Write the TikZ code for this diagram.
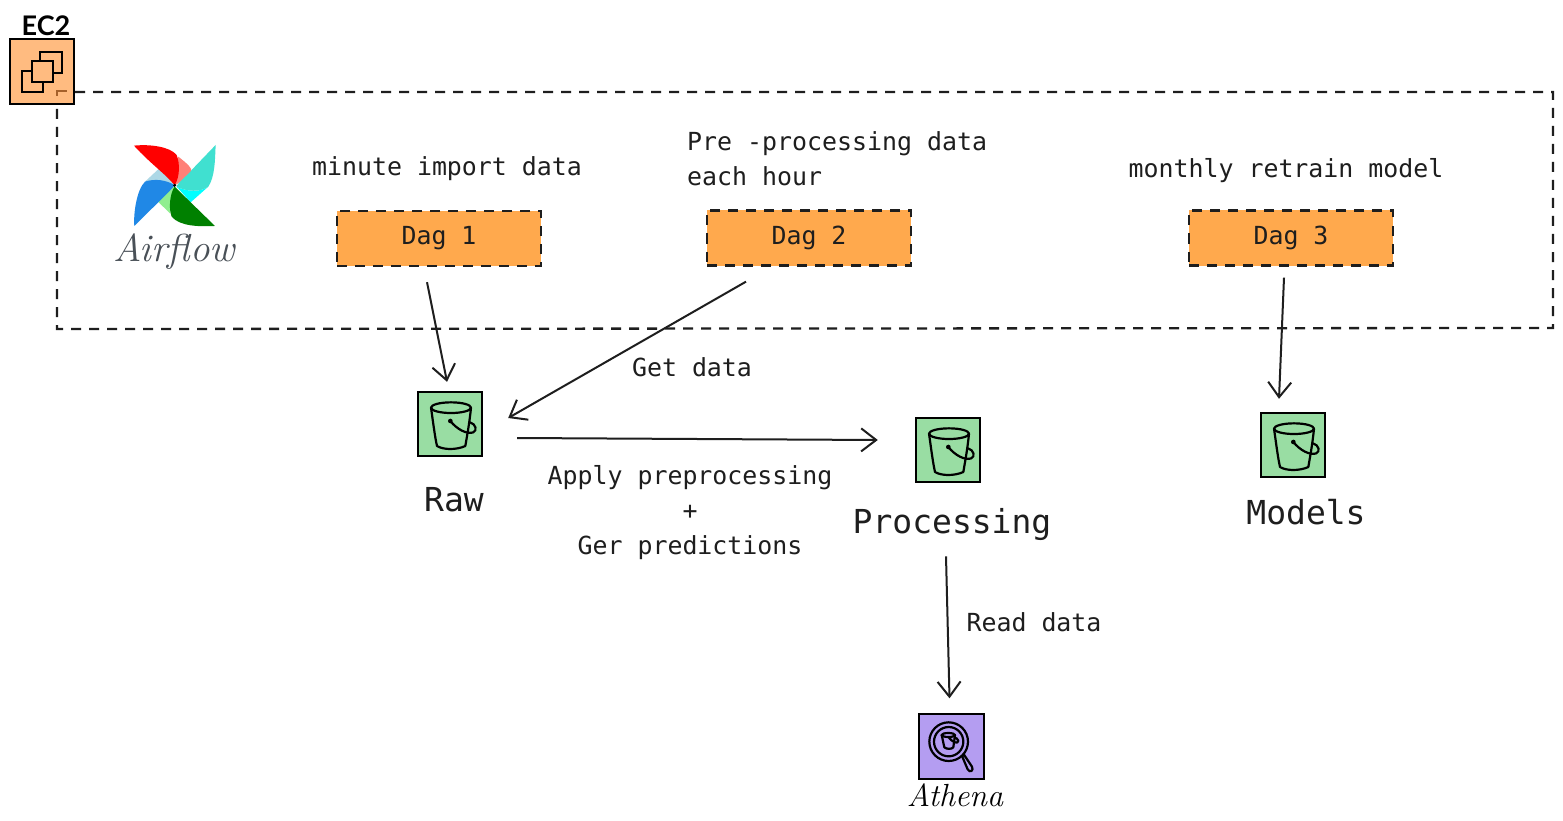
\documentclass[tikz,border=0pt]{standalone}
\usepackage{fontspec}
\setmainfont{DejaVu Sans Mono}
\newfontfamily\handfont{Latin Modern Roman}
\newfontfamily\capfont{Lato}
\usetikzlibrary{arrows.meta,calc}
\definecolor{orangeF}{HTML}{FFA94D}
\definecolor{ecF}{HTML}{FFBB80}
\definecolor{greenF}{HTML}{99DDA3}
\definecolor{purpF}{HTML}{B49DF1}
\definecolor{ink}{HTML}{1E1E1E}
\definecolor{pwLRed}{HTML}{FF8077}
\definecolor{pwCyan}{HTML}{00FFFF}
\definecolor{pwLGreen}{HTML}{90EE90}
\definecolor{pwLBlue}{HTML}{ADD8E6}
\definecolor{pwTeal}{HTML}{40E0D0}
\definecolor{pwGreen}{HTML}{008000}
\definecolor{pwBlue}{HTML}{2088E6}
\definecolor{cornerC}{HTML}{A5602A}
\tikzset{
 x=1pt,y=-1pt,
 dashline/.style={draw=ink,line width=2.3pt,dash pattern=on 10pt off 8pt},
 dagbox/.style={dashline,fill=orangeF,minimum width=204pt,minimum height=55pt,inner sep=0pt,font=\fontsize{24.9}{26}\selectfont,text=ink},
 iconbox/.style={draw=black,line width=1.9pt,minimum size=64.5pt,inner sep=0pt},
 lbl/.style={inner sep=0pt,text=ink,font=\fontsize{24.9}{26}\selectfont},
 biglbl/.style={inner sep=0pt,text=ink,font=\fontsize{33}{36}\selectfont},
 arr/.style={draw=ink,line width=2pt,-{Straight Barb[length=15pt,width=23pt,line width=2pt]}},
 bucket/.pic={
  \begin{scope}[x=0.3333pt,y=-0.3333pt,line width=2.2pt,draw=black,line cap=round,line join=round]
   \draw (3,-49) ellipse [x radius=60,y radius=16];
   \draw (-57,-49) .. controls (-50,0) and (-45,40) .. (-39,66) .. controls (-20,78) and (20,78) .. (46,66) .. controls (52,30) and (58,0) .. (63,-49);
   \fill (1,-9) circle (7);
   \draw (1,-9) .. controls (20,15) and (50,32) .. (70,25) .. controls (82,20) and (78,0) .. (60,-5);
  \end{scope}}
}
\begin{document}
\begin{tikzpicture}
\useasboundingbox (0,0) rectangle (1563,821);
\fill[white] (0,0) rectangle (1563,821);
% frame
\draw[dashline] (57,92) -- (1553,92) -- (1553,328) -- (57,329) -- cycle;
% EC2
\node[iconbox,fill=ecF] (ec2) at (42,71.5) {};
\begin{scope}[x=0.3333pt,y=-0.3333pt,line width=2.2pt,draw=black]
 \filldraw[fill=ecF] (120,155) rectangle (185,218);
 \filldraw[fill=ecF] (65,212) rectangle (130,275);
 \filldraw[fill=ecF] (95,183) rectangle (158,247);
 \draw[draw=cornerC,line width=2.2pt] (172,288) -- (172,273) -- (200,273);
\end{scope}
\node[inner sep=0pt,font=\capfont\fontsize{27}{30}\selectfont\bfseries,text=black] (ec2t) at (46,26) {EC2};
% Airflow logo
\begin{scope}[x=0.3333pt,y=-0.3333pt]
 \fill[pwLRed] (535,470) .. controls (560,490) and (580,505) .. (573,520) .. controls (560,535) and (535,550) .. (524,556) -- cycle;
 \fill[pwCyan] (530,560) .. controls (560,575) and (600,578) .. (625,560) -- (572,607) -- cycle;
 \fill[pwLGreen] (524,560) .. controls (500,565) and (475,585) .. (472,603) -- (510,640) -- cycle;
 \fill[pwLBlue] (435,545) -- (478,505) .. controls (495,510) and (515,530) .. (524,556) -- cycle;
 \fill[red] (402,437) .. controls (450,432) and (510,440) .. (530,465) .. controls (540,490) and (540,530) .. (524,556) .. controls (500,525) and (450,490) .. (402,437) -- cycle;
 \fill[pwTeal] (647,435) .. controls (645,480) and (645,530) .. (625,560) .. controls (600,578) and (560,575) .. (530,560) .. controls (530,550) and (570,520) .. (575,510) -- (647,435) -- cycle;
 \fill[pwGreen] (645,678) .. controls (600,680) and (540,680) .. (515,650) .. controls (505,625) and (510,580) .. (524,560) -- (572,607) -- (645,678) -- cycle;
 \fill[pwBlue] (403,678) .. controls (400,640) and (410,570) .. (435,545) .. controls (465,535) and (500,540) .. (524,556) .. controls (500,585) and (450,630) .. (403,678) -- cycle;
 \fill[black] (524,556) circle (5);
\end{scope}
\node[inner sep=0pt,font=\handfont\itshape\fontsize{39}{44}\selectfont,text={rgb,255:red,73;green,80;blue,87}] (airflow) at (174,252) {Airflow};
% dags
\node[dagbox] (dag1) at (439,238.5) {Dag 1};
\node[dagbox] (dag2) at (809,238) {Dag 2};
\node[dagbox] (dag3) at (1291,238) {Dag 3};
\node[lbl] (t1) at (447,169) {minute import data};
\node[lbl,align=left,anchor=north west,font=\fontsize{24.9}{35}\selectfont] (t2) at (687,131) {Pre -processing data\\each hour};
\node[lbl] (t3) at (1286,171) {monthly retrain model};
% buckets
\node[iconbox,fill=greenF] (raw) at (450,424) {};
\pic at (raw.center) {bucket};
\node[iconbox,fill=greenF] (proc) at (948,450) {};
\pic at (proc.center) {bucket};
\node[iconbox,fill=greenF] (models) at (1293,445) {};
\pic at (models.center) {bucket};
\node[biglbl] (rawt) at (454,499.5) {Raw};
\node[biglbl] (proct) at (952,525) {Processing};
\node[biglbl] (modelst) at (1306,512) {Models};
% Athena
\node[iconbox,fill=purpF] (athena) at (951.5,746.5) {};
\begin{scope}[shift={(890,700)},x=0.3333pt,y=-0.3333pt,line width=2.2pt,draw=black,line cap=round,line join=round]
 \draw (176,125) circle (58);
 \draw (176,125) circle (44);
 \draw (175,105) ellipse [x radius=20,y radius=6];
 \draw (155,105) -- (163,142) .. controls (170,148) and (185,148) .. (190,142) -- (195,105);
 \draw (176,112) .. controls (185,125) and (205,135) .. (205,122) .. controls (203,115) and (198,115) .. (195,113);
 \draw (216,168) -- (233,208) .. controls (240,220) and (252,212) .. (246,200) -- (222,164);
\end{scope}
\node[inner sep=0pt,font=\handfont\itshape\fontsize{32}{34}\selectfont,text=black] (athenat) at (955,795) {Athena};
% labels
\node[lbl] (getd) at (692,367) {Get data};
\node[lbl,align=center,font=\fontsize{24.9}{35}\selectfont] (apply) at (690,513) {Apply preprocessing\\+\\Ger predictions};
\node[lbl] (readd) at (1034,622) {Read data};
% connectors
\draw[arr] ([xshift=-12pt,yshift=-15pt]dag1.south) -- ([xshift=-3pt,yshift=9pt]raw.north);
\draw[arr] ([xshift=-63pt,yshift=-15pt]dag2.south) -- ([xshift=25pt,yshift=6pt]raw.east);
\draw[arr] ([xshift=34pt,yshift=-14pt]raw.east) -- ([xshift=-37pt,yshift=10pt]proc.west);
\draw[arr] ([xshift=-7pt,yshift=-11pt]dag3.south) -- ([xshift=-14pt,yshift=13pt]models.north);
\draw[arr] ([xshift=-6pt,yshift=-15pt]proct.south) -- ([xshift=-2pt,yshift=15pt]athena.north);
\end{tikzpicture}
\end{document}
